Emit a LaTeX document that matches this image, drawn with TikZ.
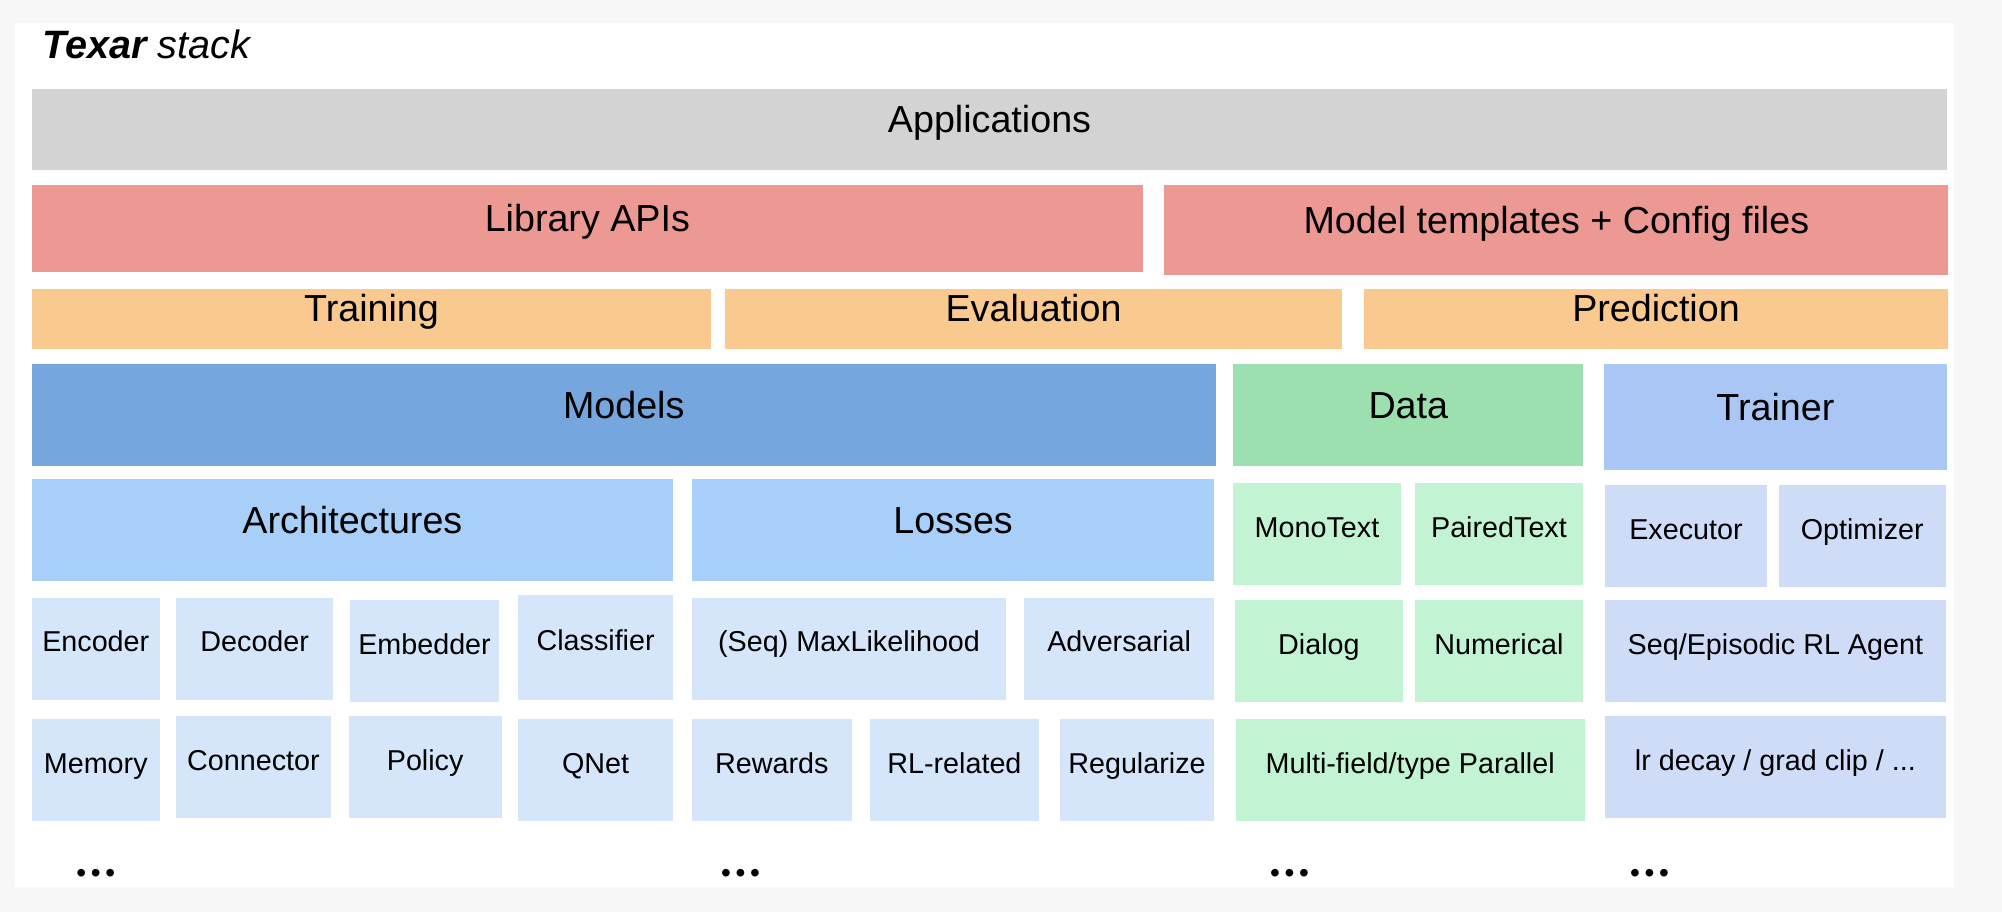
\documentclass[tikz,border=0pt]{standalone}
\usepackage{fontspec}
\setmainfont{Liberation Sans}
\usetikzlibrary{positioning}
\definecolor{appgray}{HTML}{D3D3D3}
\definecolor{apired}{HTML}{EC9893}
\definecolor{runorange}{HTML}{F9C990}
\definecolor{modblue}{HTML}{76A6DE}
\definecolor{datagreen}{HTML}{9DE0B0}
\definecolor{trainblue}{HTML}{AAC6F4}
\definecolor{subblue}{HTML}{A7CFF8}
\definecolor{leafblue}{HTML}{D6E6FA}
\definecolor{leafgreen}{HTML}{C2F4D3}
\definecolor{leafviolet}{HTML}{CFDCF8}
\tikzset{
  blk/.style={draw=none, inner sep=0pt, align=center, text height=0.72em, text depth=0.2em},
  big/.style={font=\fontsize{29.5}{32}\selectfont},
  small/.style={font=\fontsize{22.5}{25}\selectfont},
}
% box from (x1,y1) to (x2,y2), y measured downwards
\newcommand{\tbox}[8]{%
  \fill[#6] (#2,#3) rectangle (#4,#5);
  \node[blk,#7] (#1) at ({(#2+#4)/2},{(#3+#5)/2}) {#8};}
\begin{document}
\begin{tikzpicture}[x=1pt,y=-1pt]
  \fill[black!3] (0,0) rectangle (1568,714);
  \fill[white] (12,18) rectangle (1530,695);
  \useasboundingbox (0,0) rectangle (1568,714);

  \node[blk,anchor=west,font=\fontsize{31}{34}\selectfont\itshape] (title) at (33,43) {\textbf{Texar} stack};

  \tbox{app}{25}{70}{1525}{133}{appgray}{big}{Applications}
  \tbox{lib}{25}{145}{895}{213}{apired}{big}{Library APIs}
  \tbox{tmpl}{912}{145}{1526}{215}{apired}{big}{Model templates + Config files}
  \tbox{train}{25}{226}{557}{273}{runorange}{big}{Training}
  \tbox{eval}{568}{226}{1051}{273}{runorange}{big}{Evaluation}
  \tbox{pred}{1068}{226}{1526}{273}{runorange}{big}{Prediction}

  \tbox{models}{25}{285}{952}{365}{modblue}{big}{Models}
  \tbox{data}{966}{285}{1240}{365}{datagreen}{big}{Data}
  \tbox{trainer}{1256}{285}{1525}{368}{trainblue}{big}{Trainer}

  % models
  \tbox{arch}{25}{375}{527}{455}{subblue}{big}{Architectures}
  \tbox{loss}{542}{375}{951}{455}{subblue}{big}{Losses}
  \tbox{enc}{25}{468}{125}{548}{leafblue}{small}{Encoder}
  \tbox{dec}{138}{468}{261}{548}{leafblue}{small}{Decoder}
  \tbox{emb}{274}{470}{391}{550}{leafblue}{small}{Embedder}
  \tbox{cls}{406}{466}{527}{548}{leafblue}{small}{Classifier}
  \tbox{mle}{542}{468}{788}{548}{leafblue}{small}{(Seq) MaxLikelihood}
  \tbox{adv}{802}{468}{951}{548}{leafblue}{small}{Adversarial}
  \tbox{mem}{25}{563}{125}{643}{leafblue}{small}{Memory}
  \tbox{con}{138}{561}{259}{641}{leafblue}{small}{Connector}
  \tbox{pol}{273}{561}{393}{641}{leafblue}{small}{Policy}
  \tbox{qnet}{406}{563}{527}{643}{leafblue}{small}{QNet}
  \tbox{rew}{542}{563}{667}{643}{leafblue}{small}{Rewards}
  \tbox{rl}{681}{563}{814}{643}{leafblue}{small}{RL-related}
  \tbox{reg}{830}{563}{951}{643}{leafblue}{small}{Regularize}

  % data
  \tbox{mono}{966}{378}{1097}{458}{leafgreen}{small}{MonoText}
  \tbox{paired}{1108}{378}{1240}{458}{leafgreen}{small}{PairedText}
  \tbox{dialog}{967}{470}{1099}{550}{leafgreen}{small}{Dialog}
  \tbox{num}{1108}{470}{1240}{550}{leafgreen}{small}{Numerical}
  \tbox{multi}{968}{563}{1241}{643}{leafgreen}{small}{Multi-field/type Parallel}

  % trainer
  \tbox{exec}{1257}{380}{1384}{460}{leafviolet}{small}{Executor}
  \tbox{opt}{1393}{380}{1524}{460}{leafviolet}{small}{Optimizer}
  \tbox{agent}{1257}{470}{1524}{550}{leafviolet}{small}{Seq/Episodic RL Agent}
  \tbox{lr}{1257}{561}{1524}{641}{leafviolet}{small}{lr decay / grad clip / ...}

  \foreach \x/\n in {75/a,580/b,1010/c,1292/d}
    \node[inner sep=0pt,font=\fontsize{22}{24}\selectfont] (dots\n) at (\x,686) {\textbullet\,\textbullet\,\textbullet};
\end{tikzpicture}
\end{document}
